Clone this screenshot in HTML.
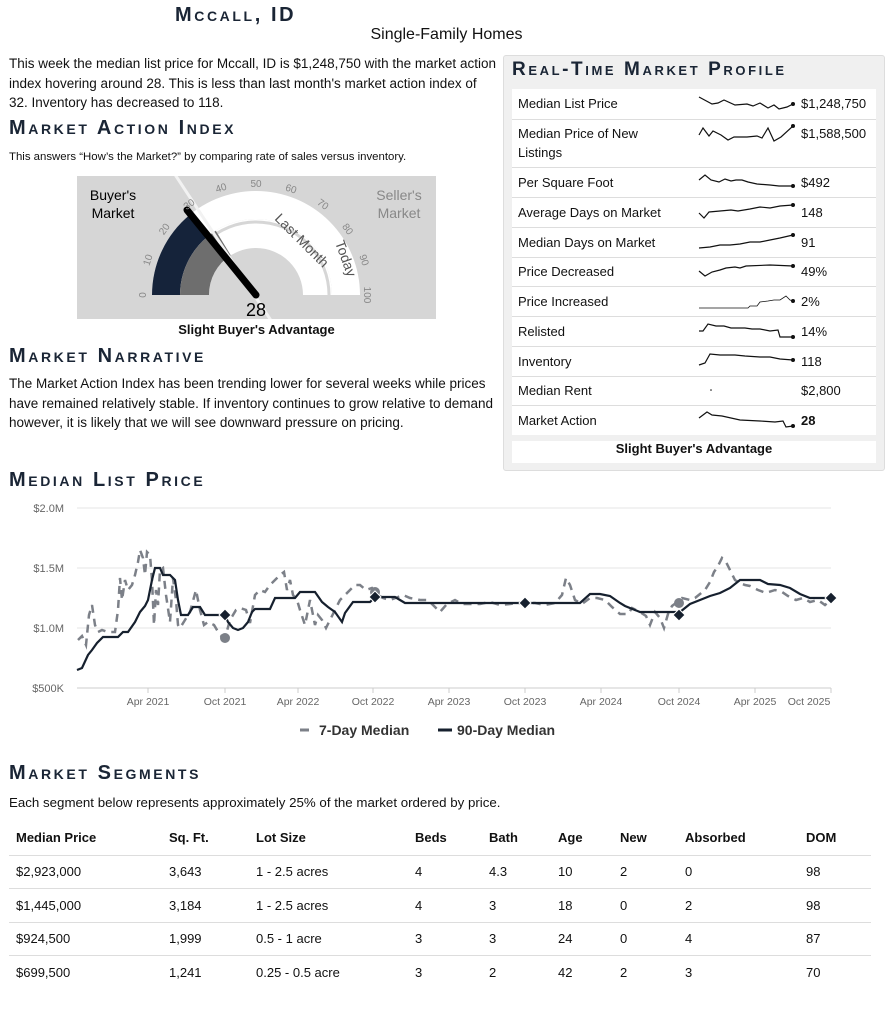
<!DOCTYPE html>
<html><head><meta charset="utf-8">
<style>
*{margin:0;padding:0;box-sizing:border-box}
body{width:893px;height:1024px;background:#fff;font-family:"Liberation Sans",sans-serif;color:#111;position:relative;overflow:hidden}
.a{position:absolute}
.h{font-variant:small-caps;font-weight:bold;color:#1a2535;letter-spacing:2.6px;font-size:20px}
.p{font-size:13.5px;line-height:19.5px}
table{border-collapse:collapse}
.rp{table-layout:fixed}
.rp td{background:#fff;border-bottom:1px solid #ddd;font-size:13px;padding:0 6px;vertical-align:middle}
.seg td{font-size:13px;border-top:1px solid #ddd;height:33.5px}
.seg th{font-size:13px;text-align:left;height:34px}
</style></head><body>
<div class="a h" style="left:175px;top:4px;font-size:20px">Mccall, ID</div>
<div class="a" style="left:0;width:893px;text-align:center;top:26px;font-size:16px">Single-Family Homes</div>
<div class="a p" style="left:9px;top:54px;width:490px">This week the median list price for Mccall, ID is $1,248,750 with the market action index hovering around 28. This is less than last month's market action index of 32. Inventory has decreased to 118.</div>
<div class="a h" style="left:9px;top:117px">Market Action Index</div>
<div class="a" style="left:9px;top:151px;font-size:11.4px">This answers “How’s the Market?” by comparing rate of sales versus inventory.</div>
<svg class="a" style="left:77px;top:176px" width="359" height="143" viewBox="77 176 359 143">
<rect x="77" y="176" width="359" height="143" fill="#d6d6d6"/>
<path d="M152,295 A104,104 0 0 1 360,295 L332,295 A76,76 0 0 0 180,295Z" fill="#fff"/>
<path d="M180,295 A76,76 0 0 1 332,295 L303,295 A47,47 0 0 0 209,295Z" fill="#fff"/>
<path d="M183,295 A73,73 0 0 1 329,295" fill="none" stroke="#d6d6d6" stroke-width="3"/>
<path d="M152,295 A104,104 0 0 1 189.7,214.9 L207.6,236.6 A76,76 0 0 0 180,295Z" fill="#15233a"/>
<path d="M180,295 A76,76 0 0 1 215.8,230.7 L230.7,255.2 A47,47 0 0 0 209,295Z" fill="#6e6e6e"/>
<line x1="172" y1="170" x2="272" y2="322" stroke="#f2f2f2" stroke-width="3"/>
<line x1="256" y1="295" x2="187" y2="210" stroke="#000" stroke-width="7" stroke-linecap="round"/>
<g font-size="10" fill="#888" text-anchor="middle">
<text transform="translate(146,295) rotate(-90)">0</text>
<text transform="translate(151,261) rotate(-72)">10</text>
<text transform="translate(167,231) rotate(-54)">20</text>
<text transform="translate(191,207) rotate(-36)">30</text>
<text transform="translate(222,191) rotate(-18)">40</text>
<text transform="translate(256,187)">50</text>
<text transform="translate(290,192) rotate(18)">60</text>
<text transform="translate(321,207) rotate(36)">70</text>
<text transform="translate(345,231) rotate(54)">80</text>
<text transform="translate(361,261) rotate(72)">90</text>
<text transform="translate(364,295) rotate(90)">100</text>
</g>
<text x="286" y="246" font-size="14" fill="#555" transform="rotate(45 295 260)" text-anchor="middle">Last Month</text>
<text x="340" y="262" font-size="14" fill="#555" transform="rotate(70 342 262)" text-anchor="middle">Today</text>
<text x="113" y="200" font-size="14" text-anchor="middle">Buyer's</text>
<text x="113" y="218" font-size="14" text-anchor="middle">Market</text>
<text x="399" y="200" font-size="14" fill="#888" text-anchor="middle">Seller's</text>
<text x="399" y="218" font-size="14" fill="#888" text-anchor="middle">Market</text>
<text x="256" y="316" font-size="18" text-anchor="middle">28</text>
</svg>
<div class="a" style="left:77px;width:359px;text-align:center;top:322px;font-size:13px;font-weight:bold">Slight Buyer's Advantage</div>
<div class="a h" style="left:9px;top:345px">Market Narrative</div>
<div class="a p" style="left:9px;top:374px;width:490px">The Market Action Index has been trending lower for several weeks while prices have remained relatively stable. If inventory continues to grow relative to demand however, it is likely that we will see downward pressure on pricing.</div>

<div class="a" style="left:503px;top:55px;width:382px;height:416px;background:#f0f0f0;border:1px solid #ddd;border-radius:3px"></div>
<div class="a h" style="left:512px;top:59px;font-size:19px">Real-Time Market Profile</div>
<table class="a rp" style="left:512px;top:89px;width:364px">
<tr style="height:30px"><td style="width:180px">Median List Price</td><td style="width:105px"></td><td style="width:79px;padding-left:4px">$1,248,750</td></tr>
<tr style="height:48px"><td style="line-height:19px;padding-right:30px">Median Price of New Listings</td><td></td><td style="vertical-align:top;padding-top:6px;padding-left:4px">$1,588,500</td></tr>
<tr style="height:30px"><td>Per Square Foot</td><td></td><td style="padding-left:4px">$492</td></tr>
<tr style="height:30px"><td>Average Days on Market</td><td></td><td style="padding-left:4px">148</td></tr>
<tr style="height:30px"><td>Median Days on Market</td><td></td><td style="padding-left:4px">91</td></tr>
<tr style="height:29px"><td>Price Decreased</td><td></td><td style="padding-left:4px">49%</td></tr>
<tr style="height:30px"><td>Price Increased</td><td></td><td style="padding-left:4px">2%</td></tr>
<tr style="height:30px"><td>Relisted</td><td></td><td style="padding-left:4px">14%</td></tr>
<tr style="height:30px"><td>Inventory</td><td></td><td style="padding-left:4px">118</td></tr>
<tr style="height:29px"><td>Median Rent</td><td></td><td style="padding-left:4px">$2,800</td></tr>
<tr style="height:30px;"><td style="border:none">Market Action</td><td style="border:none"></td><td style="border:none;font-weight:bold;padding-left:4px">28</td></tr>
</table>
<div class="a" style="left:512px;top:441px;width:364px;height:22px;background:#fff"></div>
<div class="a" style="left:512px;top:441px;width:364px;text-align:center;font-size:13px;font-weight:bold">Slight Buyer's Advantage</div>
<svg class="a" style="left:690px;top:90px" width="110" height="345" viewBox="690 90 110 345" fill="none" stroke="#111" stroke-width="1.2">
<polyline points="699,97 712,104 718,103 724,100 735,105 747,104 753,106 760,103 768,108 774,105 779,109 787,107 793,104"/>
<polyline points="699,135 703,128 709,136 713,131 721,135 728,140 734,137 747,137 757,136 762,138 768,128 774,141 781,137 793,126"/>
<polyline points="699,180 705,175 711,180 719,182 725,179 731,181 736,180 742,180 748,182 757,184 770,185 779,186 793,186"/>
<polyline points="699,213 704,218 709,212 720,211 731,210 738,211 750,209 760,207 770,208 780,206 793,205"/>
<polyline points="699,248 710,247 720,245 730,245 740,244 750,242 760,242 770,240 780,238 793,235"/>
<polyline points="699,271 705,276 712,272 720,270 726,268 735,267 740,268 746,266 770,265 793,266"/>
<polyline stroke-width="0.8" points="699,308 740,308 748,308 750,306 757,306 760,302 768,301 774,300 780,300 786,296 790,300 793,301"/>
<polyline points="699,331 703,331 708,324 716,326 724,326 731,328 745,328 752,329 760,329 770,331 778,330 780,337 793,337"/>
<polyline points="699,365 705,363 710,354 720,355 735,355 745,356 760,357 770,357 780,359 793,360"/>
<polyline points="699,418 707,412 712,415 722,416 740,420 760,421 775,422 783,421 786,427 793,426"/>
<g fill="#111" stroke="none"><circle cx="793" cy="104" r="2"/><circle cx="793" cy="126" r="2"/><circle cx="793" cy="186" r="2"/><circle cx="793" cy="205" r="2"/><circle cx="793" cy="235" r="2"/><circle cx="793" cy="266" r="2"/><circle cx="793" cy="301" r="2"/><circle cx="793" cy="337" r="2"/><circle cx="793" cy="360" r="2"/><circle cx="711" cy="390" r="0.8"/><circle cx="793" cy="426" r="2"/></g>
</svg>

<div class="a h" style="left:9px;top:469px">Median List Price</div>
<svg class="a" style="left:0;top:495px" width="893" height="250" viewBox="0 495 893 250">
<g stroke="#e6e6e6" stroke-width="1"><line x1="77" y1="508" x2="831" y2="508"/><line x1="77" y1="568" x2="831" y2="568"/><line x1="77" y1="628" x2="831" y2="628"/><line x1="77" y1="688" x2="831" y2="688"/></g>
<line x1="77" y1="688" x2="831" y2="688" stroke="#ccc"/>
<g font-size="11" fill="#666" text-anchor="end"><text x="64" y="512">$2.0M</text><text x="64" y="572">$1.5M</text><text x="64" y="632">$1.0M</text><text x="64" y="692">$500K</text></g>
<g font-size="10.5" fill="#666" text-anchor="middle"><text x="148" y="705">Apr 2021</text><text x="225" y="705">Oct 2021</text><text x="298" y="705">Apr 2022</text><text x="373" y="705">Oct 2022</text><text x="449" y="705">Apr 2023</text><text x="525" y="705">Oct 2023</text><text x="601" y="705">Apr 2024</text><text x="679" y="705">Oct 2024</text><text x="755" y="705">Apr 2025</text><text x="809" y="705">Oct 2025</text></g>
<g stroke="#ccc"><line x1="148" y1="688" x2="148" y2="693"/><line x1="225" y1="688" x2="225" y2="693"/><line x1="298" y1="688" x2="298" y2="693"/><line x1="373" y1="688" x2="373" y2="693"/><line x1="449" y1="688" x2="449" y2="693"/><line x1="525" y1="688" x2="525" y2="693"/><line x1="601" y1="688" x2="601" y2="693"/><line x1="679" y1="688" x2="679" y2="693"/><line x1="755" y1="688" x2="755" y2="693"/><line x1="831" y1="688" x2="831" y2="693"/></g>
<polyline fill="none" stroke="#7c8088" stroke-width="2.5" stroke-dasharray="8,6" points="78,640 82,636 86,645 89,615 92,605 95,625 98,632 102,630 108,632 115,632 118,610 120,578 122,600 125,580 128,590 132,585 135,575 138,562 140,550 143,558 145,575 147,552 150,555 152,580 154,625 156,590 158,605 160,570 163,568 166,595 170,622 173,578 176,600 178,625 180,628 185,620 190,612 196,590 200,610 204,625 208,622 214,625 220,635 225,638 230,620 236,610 240,608 246,610 250,623 255,595 260,590 265,592 270,585 275,580 280,575 284,572 287,590 290,580 293,595 297,600 300,610 305,625 310,600 315,625 318,615 322,620 326,628 330,620 335,610 340,600 345,595 350,590 355,585 360,585 366,590 372,588 378,595 383,598 390,600 398,597 403,595 410,598 420,600 428,600 435,607 440,612 447,604 455,600 462,604 470,604 480,604 490,602 500,605 510,604 518,603 526,603 535,603 545,605 555,603 562,595 566,578 570,585 575,600 582,604 590,598 597,598 605,600 612,607 620,614 628,614 632,608 640,612 646,616 650,625 655,612 660,618 664,628 668,614 672,606 676,603 682,598 690,600 695,598 700,594 705,590 710,582 714,572 718,566 722,558 726,562 730,570 735,580 740,583 745,585 750,586 758,590 766,593 775,590 782,592 788,596 796,600 803,598 810,602 818,600 825,605 831,600"/>
<polyline fill="none" stroke="#16202e" stroke-width="2.2" points="77,670 82,668 88,655 92,650 97,643 103,637 110,637 118,637 123,632 128,632 135,622 140,612 145,606 148,600 152,580 155,568 160,568 163,575 170,575 175,580 178,600 181,615 188,615 193,607 200,607 205,615 212,615 225,615 228,622 233,628 238,630 243,628 248,622 252,612 255,609 270,609 275,598 295,598 300,592 315,592 322,602 328,607 335,612 342,622 345,613 353,602 370,602 375,597 395,597 400,600 405,603 560,603 580,603 590,594 600,594 610,596 620,603 625,606 640,612 680,612 690,604 700,600 710,596 720,593 730,588 740,580 760,580 768,584 780,585 790,588 800,594 810,598 831,598"/>
<g fill="#7c8088"><circle cx="225" cy="638" r="5"/><circle cx="375" cy="592" r="5"/><circle cx="679" cy="603" r="5"/></g>
<g fill="#16202e" stroke="#fff" stroke-width="1"><path d="M225,609 l6,6 -6,6 -6,-6z"/><path d="M375,591 l6,6 -6,6 -6,-6z"/><path d="M525,597 l6,6 -6,6 -6,-6z"/><path d="M679,609 l6,6 -6,6 -6,-6z"/><path d="M831,592 l6,6 -6,6 -6,-6z"/></g>
<line x1="300" y1="730" x2="309" y2="730" stroke="#7c8088" stroke-width="3"/>
<text x="319" y="735" font-size="14" font-weight="bold" fill="#333">7-Day Median</text>
<line x1="438" y1="730" x2="452" y2="730" stroke="#16202e" stroke-width="3"/>
<text x="457" y="735" font-size="14" font-weight="bold" fill="#333">90-Day Median</text>
</svg>

<div class="a h" style="left:9px;top:762px">Market Segments</div>
<div class="a" style="left:9px;top:795px;font-size:13.3px">Each segment below represents approximately 25% of the market ordered by price.</div>
<table class="a seg" style="left:9px;top:821px;width:862px">
<tr><th style="padding-left:7px;width:160px">Median Price</th><th style="width:87px">Sq. Ft.</th><th style="width:159px">Lot Size</th><th style="width:74px">Beds</th><th style="width:69px">Bath</th><th style="width:62px">Age</th><th style="width:65px">New</th><th style="width:121px">Absorbed</th><th>DOM</th></tr>
<tr><td style="padding-left:7px">$2,923,000</td><td>3,643</td><td>1 - 2.5 acres</td><td>4</td><td>4.3</td><td>10</td><td>2</td><td>0</td><td>98</td></tr>
<tr><td style="padding-left:7px">$1,445,000</td><td>3,184</td><td>1 - 2.5 acres</td><td>4</td><td>3</td><td>18</td><td>0</td><td>2</td><td>98</td></tr>
<tr><td style="padding-left:7px">$924,500</td><td>1,999</td><td>0.5 - 1 acre</td><td>3</td><td>3</td><td>24</td><td>0</td><td>4</td><td>87</td></tr>
<tr><td style="padding-left:7px">$699,500</td><td>1,241</td><td>0.25 - 0.5 acre</td><td>3</td><td>2</td><td>42</td><td>2</td><td>3</td><td>70</td></tr>
</table>
</body></html>
